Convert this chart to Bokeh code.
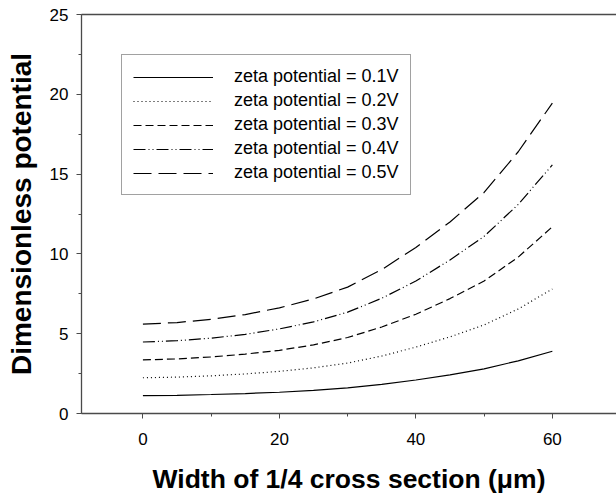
from bokeh.plotting import figure
from bokeh.models import (LinearAxis, SingleIntervalTicker, FixedTicker, Range1d)
from bokeh.embed import file_html
from bokeh.resources import INLINE

width_um = [0, 5, 10, 15, 20, 25, 30, 35, 40, 45, 50, 55, 60]
zeta_01 = [1.12, 1.14, 1.19, 1.25, 1.33, 1.45, 1.60, 1.82, 2.10, 2.42, 2.80, 3.30, 3.90]
zeta_02 = [2.24, 2.28, 2.36, 2.48, 2.64, 2.86, 3.16, 3.60, 4.16, 4.80, 5.55, 6.55, 7.80]
zeta_03 = [3.36, 3.42, 3.54, 3.72, 3.96, 4.30, 4.76, 5.42, 6.22, 7.20, 8.30, 9.80, 11.70]
zeta_04 = [4.48, 4.56, 4.72, 4.96, 5.30, 5.74, 6.35, 7.22, 8.30, 9.62, 11.10, 13.10, 15.58]
zeta_05 = [5.60, 5.70, 5.90, 6.20, 6.62, 7.18, 7.92, 9.02, 10.40, 12.00, 13.85, 16.40, 19.45]

labels = ["zeta potential = 0.1V", "zeta potential = 0.2V", "zeta potential = 0.3V",
          "zeta potential = 0.4V", "zeta potential = 0.5V"]
series = [zeta_01, zeta_02, zeta_03, zeta_04, zeta_05]
dashes = ["solid", "1 3", "8 4", "12 3 1 3 1 3", "18 7"]

FONT = "Liberation Sans"
AX = "#4a4a4a"

p = figure(width=616, height=499, output_backend="svg", toolbar_location=None,
           x_range=Range1d(-9.0, 69.4), y_range=Range1d(0, 25),
           min_border_left=81, min_border_right=0, min_border_top=14,
           min_border_bottom=86)
p.outline_line_color = None
p.grid.visible = False
p.background_fill_color = "white"

for ys, lab, d in zip(series, labels, dashes):
    p.line(width_um, ys, line_color="black", line_width=1.2, line_dash=d,
           legend_label=lab)

for ax in (p.xaxis[0], p.yaxis[0]):
    ax.axis_line_color = AX
    ax.axis_line_width = 1.3
    ax.major_tick_line_color = AX
    ax.minor_tick_line_color = AX
    ax.major_tick_out = 5
    ax.major_tick_in = 0
    ax.minor_tick_out = 3
    ax.minor_tick_in = 0
    ax.major_label_text_font = FONT
    ax.major_label_text_font_size = "17px"
    ax.major_label_text_color = "black"
    ax.axis_label_text_font = FONT
    ax.axis_label_text_font_style = "bold"
    ax.axis_label_text_color = "black"

p.xaxis[0].ticker = SingleIntervalTicker(interval=20, num_minor_ticks=2)
p.yaxis[0].ticker = SingleIntervalTicker(interval=5, num_minor_ticks=2)
p.xaxis[0].axis_label = "Width of 1/4 cross section (\u03bcm)"
p.yaxis[0].axis_label = "Dimensionless potential"
p.xaxis[0].axis_label_text_font_size = "26.5px"
p.yaxis[0].axis_label_text_font_size = "28px"
p.xaxis[0].major_label_standoff = 14
p.yaxis[0].major_label_standoff = 8
p.xaxis[0].axis_label_standoff = 16
p.yaxis[0].axis_label_standoff = 10

top = LinearAxis(ticker=FixedTicker(ticks=[]), axis_line_color=AX, axis_line_width=1.3,
                 major_label_text_font_size="0px", major_tick_line_color=None,
                 minor_tick_line_color=None)
p.add_layout(top, "above")

lg = p.legend[0]
lg.location = (40, 218)
lg.border_line_color = "#444444"
lg.border_line_width = 1
lg.background_fill_color = "white"
lg.background_fill_alpha = 1
lg.padding = 11
lg.margin = 0
lg.spacing = 3
lg.glyph_width = 80
lg.glyph_height = 20
lg.label_height = 20
lg.label_standoff = 21
lg.label_text_font = FONT
lg.label_text_font_size = "18px"
lg.label_text_color = "black"

open("out.html", "w").write(file_html(p, INLINE))
